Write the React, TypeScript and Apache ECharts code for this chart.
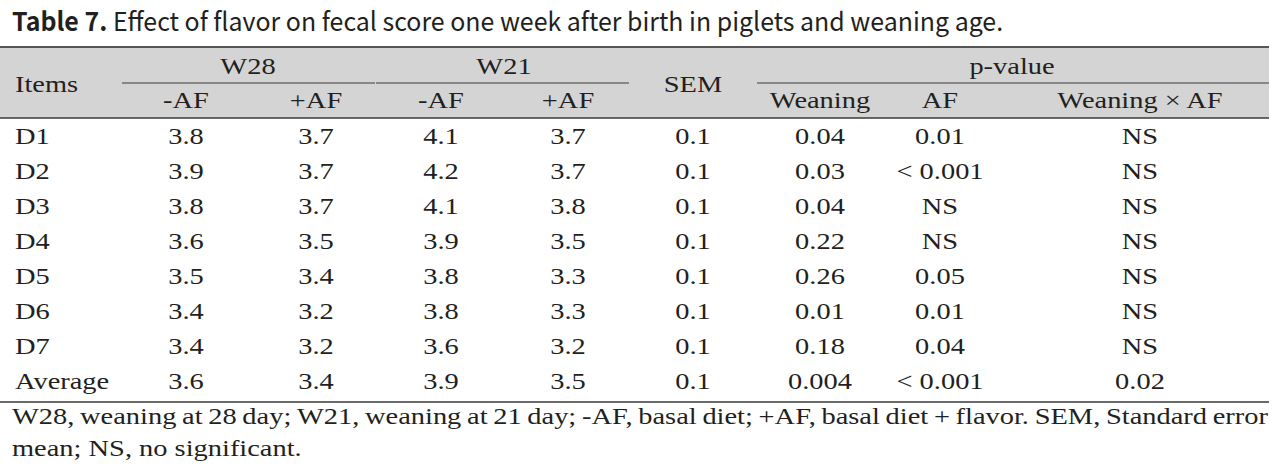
import React, { useEffect, useRef } from "react";
import * as echarts from "echarts";

// ---------- data ----------
const titleBold = "Table 7.";
const titleRest = " Effect of flavor on fecal score one week after birth in piglets and weaning age.";

const itemsHeader = "Items";
const groupHeaders = ["W28", "W21"];
const subHeaders = ["-AF", "+AF", "-AF", "+AF"];
const semHeader = "SEM";
const pHeader = "p-value";
const pSubHeaders = ["Weaning", "AF", "Weaning × AF"];

const rowLabels = ["D1", "D2", "D3", "D4", "D5", "D6", "D7", "Average"];
const w28NoAF = [3.8, 3.9, 3.8, 3.6, 3.5, 3.4, 3.4, 3.6];
const w28AF = [3.7, 3.7, 3.7, 3.5, 3.4, 3.2, 3.2, 3.4];
const w21NoAF = [4.1, 4.2, 4.1, 3.9, 3.8, 3.8, 3.6, 3.9];
const w21AF = [3.7, 3.7, 3.8, 3.5, 3.3, 3.3, 3.2, 3.5];
const sem = [0.1, 0.1, 0.1, 0.1, 0.1, 0.1, 0.1, 0.1];
const pWeaning = ["0.04", "0.03", "0.04", "0.22", "0.26", "0.01", "0.18", "0.004"];
const pAF = ["0.01", "< 0.001", "NS", "NS", "0.05", "0.01", "0.04", "< 0.001"];
const pInteraction = ["NS", "NS", "NS", "NS", "NS", "NS", "NS", "0.02"];

const footnoteLine1 =
  "W28, weaning at 28 day; W21, weaning at 21 day; -AF, basal diet; +AF, basal diet + flavor. SEM, Standard error";
const footnoteLine2 = "mean; NS, no significant.";

// ---------- layout ----------
const SERIF = "Liberation Serif";
const SANS = "Noto Sans CJK KR";
const BODY_SIZE = 24;
const TITLE_SIZE = 26;
const TEXT_COLOR = "#231f20";

const TABLE_LEFT = 0;
const TABLE_RIGHT = 1269;
const TOP_LINE_Y = 47;
const SUB_LINE_Y = 83;
const HEAD_BOTTOM_Y = 118;
const BOTTOM_LINE_Y = 402;
const HEAD_ROW1_Y = 66;
const HEAD_ROW2_Y = 100;
const HEAD_MID_Y = 84;
const FIRST_ROW_Y = 136;
const ROW_PITCH = 35.1;
const LABEL_X = 15;
const COL_X = [186, 316, 441, 568, 693, 820, 940, 1140];
const GROUP_X = [248, 504];
const P_X = 1012;
const FOOT_Y = [416, 448];
const FOOT_LEFT = 12;
const FOOT_RIGHT = 1268;
const FOOT2_WIDTH = 290;
const TITLE_LEFT = 12;
const TITLE_WIDTH = 991;
const TITLE_Y = 19;

let measureCtx: CanvasRenderingContext2D | null = null;
function measure(text: string, font: string): number {
  if (!measureCtx) measureCtx = document.createElement("canvas").getContext("2d");
  if (!measureCtx) return text.length * 10;
  measureCtx.font = font;
  return measureCtx.measureText(text).width;
}

function buildOption() {
  const bodyFont = `${BODY_SIZE}px '${SERIF}'`;
  const rawFoot2 = measure(footnoteLine2, bodyFont);
  const bodyScale = rawFoot2 > 0 ? FOOT2_WIDTH / rawFoot2 : 1;

  const txt = (text: string, x: number, y: number, align: string = "center") => ({
    type: "text",
    x,
    y,
    scaleX: bodyScale,
    silent: true,
    style: {
      text,
      fontSize: BODY_SIZE,
      fontFamily: SERIF,
      fill: TEXT_COLOR,
      align,
      verticalAlign: "middle",
      textAlign: align,
      textVerticalAlign: "middle",
    },
  });

  const hline = (x1: number, x2: number, y: number, color: string, w: number) => ({
    type: "line",
    silent: true,
    shape: { x1, y1: y, x2, y2: y },
    style: { stroke: color, lineWidth: w },
  });

  const els: any[] = [];

  // title
  const boldW = measure(titleBold, `bold ${TITLE_SIZE}px '${SANS}'`);
  const restW = measure(titleRest, `${TITLE_SIZE}px '${SANS}'`);
  const titleScale = boldW + restW > 0 ? TITLE_WIDTH / (boldW + restW) : 1;
  els.push({
    type: "text",
    x: TITLE_LEFT,
    y: TITLE_Y,
    scaleX: titleScale,
    silent: true,
    style: {
      text: titleBold,
      fontSize: TITLE_SIZE,
      fontWeight: "bold",
      fontFamily: SANS,
      fill: TEXT_COLOR,
      align: "left",
      verticalAlign: "middle",
    },
  });
  els.push({
    type: "text",
    x: TITLE_LEFT + boldW * titleScale,
    y: TITLE_Y,
    scaleX: titleScale,
    silent: true,
    style: {
      text: titleRest,
      fontSize: TITLE_SIZE,
      fontFamily: SANS,
      fill: TEXT_COLOR,
      align: "left",
      verticalAlign: "middle",
    },
  });

  // header band
  els.push({
    type: "rect",
    silent: true,
    shape: { x: TABLE_LEFT, y: TOP_LINE_Y, width: TABLE_RIGHT - TABLE_LEFT, height: HEAD_BOTTOM_Y - TOP_LINE_Y },
    style: { fill: "#d4d4d4" },
  });
  els.push(hline(TABLE_LEFT, TABLE_RIGHT, TOP_LINE_Y, "#555555", 2));
  els.push(hline(122, 375, SUB_LINE_Y, "#6e6e6e", 1.5));
  els.push(hline(376, 629, SUB_LINE_Y, "#6e6e6e", 1.5));
  els.push(hline(757, TABLE_RIGHT, SUB_LINE_Y, "#6e6e6e", 1.5));
  els.push(hline(TABLE_LEFT, TABLE_RIGHT, HEAD_BOTTOM_Y, "#3a3a3a", 1.5));
  els.push(hline(TABLE_LEFT, TABLE_RIGHT, BOTTOM_LINE_Y, "#6a6a6a", 2));

  // header texts
  els.push(txt(itemsHeader, LABEL_X, HEAD_MID_Y, "left"));
  groupHeaders.forEach((g, i) => els.push(txt(g, GROUP_X[i], HEAD_ROW1_Y)));
  subHeaders.forEach((s, i) => els.push(txt(s, COL_X[i], HEAD_ROW2_Y)));
  els.push(txt(semHeader, COL_X[4], HEAD_MID_Y));
  els.push(txt(pHeader, P_X, HEAD_ROW1_Y));
  pSubHeaders.forEach((s, i) => els.push(txt(s, COL_X[5 + i], HEAD_ROW2_Y)));

  // body rows
  rowLabels.forEach((label, r) => {
    const y = FIRST_ROW_Y + r * ROW_PITCH;
    const cells = [
      w28NoAF[r].toFixed(1),
      w28AF[r].toFixed(1),
      w21NoAF[r].toFixed(1),
      w21AF[r].toFixed(1),
      sem[r].toFixed(1),
      pWeaning[r],
      pAF[r],
      pInteraction[r],
    ];
    els.push(txt(label, LABEL_X, y, "left"));
    cells.forEach((c, i) => els.push(txt(c, COL_X[i], y)));
  });

  // footnote line 1 (justified)
  const words = footnoteLine1.split(" ");
  const widths = words.map((w) => measure(w, bodyFont) * bodyScale);
  const total = widths.reduce((a, b) => a + b, 0);
  const gap = (FOOT_RIGHT - FOOT_LEFT - total) / (words.length - 1);
  let cx = FOOT_LEFT;
  words.forEach((w, i) => {
    els.push(txt(w, cx, FOOT_Y[0], "left"));
    cx += widths[i] + gap;
  });
  els.push(txt(footnoteLine2, FOOT_LEFT, FOOT_Y[1], "left"));

  return {
    animation: false,
    backgroundColor: "#ffffff",
    graphic: { elements: els },
  };
}

export default function App() {
  const ref = useRef<HTMLDivElement>(null);
  useEffect(() => {
    document.body.style.margin = "0";
    if (!ref.current) return;
    const chart = echarts.init(ref.current, null, { renderer: "svg" });
    chart.setOption(buildOption() as any);
    return () => chart.dispose();
  }, []);
  return <div ref={ref} style={{ width: 1288, height: 471 }} />;
}
